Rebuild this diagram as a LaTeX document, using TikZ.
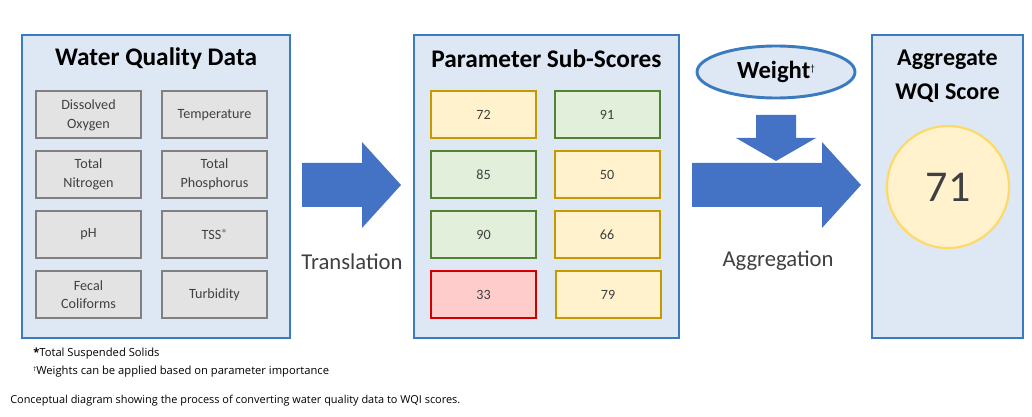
\documentclass[tikz,border=0pt]{standalone}
\usepackage{fontspec}
\setmainfont{Carlito}
\newfontfamily\notefont{Open Sans}
\usepackage{tikz}
\usetikzlibrary{shapes.geometric}
\definecolor{panelfill}{HTML}{DEE7F4}
\definecolor{paneldraw}{HTML}{3A7BBF}
\definecolor{arrowblue}{HTML}{4472C4}
\definecolor{boxfill}{HTML}{E3E3E3}
\definecolor{boxdraw}{HTML}{808080}
\definecolor{txtgray}{HTML}{404040}
\definecolor{yelfill}{HTML}{FFF2CC}
\definecolor{yeldraw}{HTML}{C49A00}
\definecolor{grnfill}{HTML}{E2EFDA}
\definecolor{grndraw}{HTML}{548235}
\definecolor{redfill}{HTML}{FFCCCC}
\definecolor{reddraw}{HTML}{D00000}
\definecolor{ringdraw}{HTML}{FFD966}

\begin{document}
\begin{tikzpicture}[x=0.75pt, y=-0.75pt,
  panel/.style={draw=paneldraw, fill=panelfill, line width=2.2pt, minimum height=227.25pt, inner sep=0pt},
  title/.style={font=\fontsize{19}{22}\selectfont\bfseries, align=center},
  param/.style={draw=boxdraw, fill=boxfill, line width=1.5pt, minimum width=78.75pt, minimum height=35.25pt,
    inner sep=0pt, align=center, text=txtgray, font=\fontsize{10.6}{14}\selectfont},
  score/.style={draw=#1draw, fill=#1fill, line width=1.5pt, minimum width=78.75pt, minimum height=35.25pt,
    inner sep=0pt, text=txtgray, font=\fontsize{10.6}{14}\selectfont},
  step label/.style={font=\fontsize{17}{20}\selectfont, text=txtgray},
  note/.style={font=\notefont\fontsize{8.4}{10}\selectfont, anchor=west, inner sep=0pt}]
\useasboundingbox[fill=white] (0,0) rectangle (1032,417);

% panels
\node[panel, minimum width=201pt] (data) at (156,186.5) {};
\node[panel, minimum width=198.75pt] (sub) at (546.5,186.5) {};
\node[panel, minimum width=113.25pt] (wqi) at (947.5,186.5) {};
\node[title] (dataT) at (156,59) {Water Quality Data};
\node[title] (subT) at (546.5,59) {Parameter Sub-Scores};
\node[title, font=\fontsize{18}{25.5}\selectfont\bfseries] (wqiT) at (947.5,76) {Aggregate\\WQI Score};

% parameters
\foreach \lbl/\px/\py [count=\i] in {
  {Dissolved\\Oxygen}/88.5/115, {Temperature}/214.5/115,
  {Total\\Nitrogen}/88.5/174.5, {Total\\Phosphorus}/214.5/174.5,
  {pH}/88.5/234.5, {TSS$^{*}$}/214.5/234.5,
  {Fecal\\Coliforms}/88.5/294.5, {Turbidity}/214.5/294.5}
  \node[param] (p\i) at (\px,\py) {\lbl};

% sub-scores
\foreach \val/\col/\px/\py [count=\i] in {
  72/yel/483.5/115, 91/grn/607/115,
  85/grn/483.5/174.5, 50/yel/607/174.5,
  90/grn/483.5/234.5, 66/yel/607/234.5,
  33/red/483.5/294.5, 79/yel/608/294.5}
  \node[score=\col] (s\i) at (\px,\py) {\val};

% final score
\node[circle, draw=ringdraw, fill=yelfill, line width=1.6pt, minimum size=91.5pt, text=txtgray,
  font=\fontsize{33}{33}\selectfont] (final) at (948,187) {71};
\node[ellipse, draw=paneldraw, fill=panelfill, line width=2.2pt, minimum width=118.5pt, minimum height=39pt,
  font=\fontsize{18.5}{20}\selectfont\bfseries] (weight) at (776,72) {Weight\raisebox{0.6ex}{\fontsize{7}{7}\selectfont\mdseries\textdagger}};

% block arrows
\fill[arrowblue] (302,163) -- (362,163) -- (362,142) -- (401,185) -- (362,228) -- (362,207) -- (302,207) -- cycle;
\fill[arrowblue] (692,163) -- (822,163) -- (822,142) -- (861,185) -- (822,228) -- (822,207) -- (692,207) -- cycle;
\fill[arrowblue] (756,115) -- (796,115) -- (796,138) -- (816,138) -- (776,161) -- (736,138) -- (756,138) -- cycle;
\node[step label] (transl) at (352,262) {Translation};
\node[step label] (aggr) at (778,261) {Aggregation};

% notes
\node[note] (n1) at (33,354) {\textbf{*}Total Suspended Solids};
\node[note] (n2) at (33,372) {\raisebox{0.6ex}{\fontsize{4.5}{4.5}\selectfont\textdagger}Weights can be applied based on parameter importance};
\node[note, font=\notefont\fontsize{8.2}{10}\selectfont] (cap) at (10,401) {Conceptual diagram showing the process of converting water quality data to WQI scores.};
\end{tikzpicture}
\end{document}
